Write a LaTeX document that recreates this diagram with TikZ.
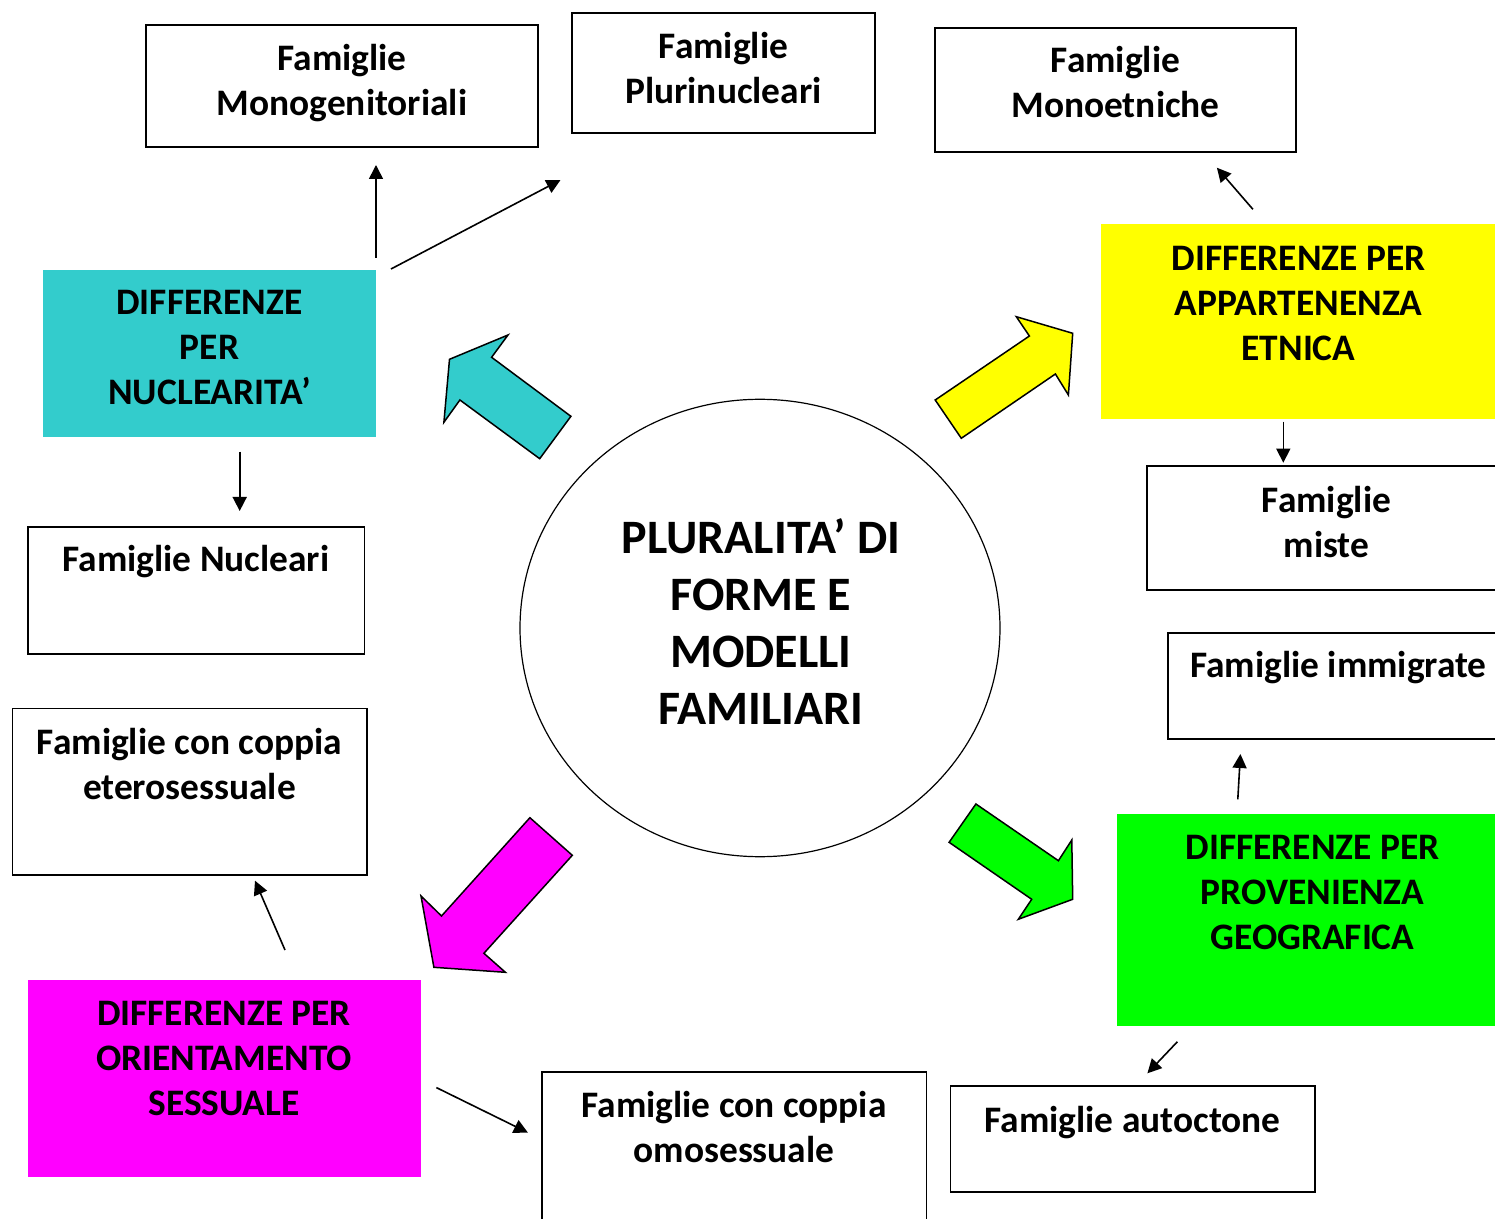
\documentclass[tikz,border=0pt]{standalone}
\usepackage{fontspec}
\setmainfont{Carlito}
\usetikzlibrary{arrows.meta,shapes.geometric}
\definecolor{nucl}{HTML}{33CCCC}
\definecolor{etn}{HTML}{FFFF00}
\definecolor{sess}{HTML}{FF00FF}
\definecolor{geo}{HTML}{00FF00}
\tikzset{
  fbox/.style={draw,line width=0.8pt,inner sep=0pt},
  cbox/.style={inner sep=0pt},
  txt/.style={anchor=north,inner sep=0pt,align=center,font=\fontsize{18.7}{22.5}\selectfont\bfseries},
  arr/.style={line width=0.8pt,-{Triangle[length=7pt,width=7pt]}},
  blk/.style={draw,line width=0.75pt,line join=miter}
}
\begin{document}
\begin{tikzpicture}[x=0.5pt,y=-0.5pt]
            \useasboundingbox(0,0)rectangle(1495,1219);
            \clip(0,0)rectangle(1495,1219);
            % centre
            \node[fbox,ellipse,line width=0.6pt,minimum width=240pt,minimum height=228.7pt](plur)at(760,628){};
            \node[txt,font=\fontsize{24}{28.6}\selectfont\bfseries](plurT)at(761,518){PLURALITA’ DI\\FORME E\\MODELLI\\FAMILIARI};
            % coloured boxes
            \node[cbox,fill=nucl,minimum width=166.5pt,minimum height=83.5pt](nuc)at(209.5,353.5){};
            \node[cbox,fill=etn,minimum width=214.5pt,minimum height=97.75pt](etn)at(1315.5,321.75){};
            \node[cbox,fill=geo,minimum width=206.5pt,minimum height=106pt](geo)at(1323.5,920){};
            \node[cbox,fill=sess,minimum width=196.5pt,minimum height=98.35pt](ses)at(224.5,1078.35){};
            \node[txt](nucT)at(209.5,290){DIFFERENZE\\PER\\NUCLEARITA’};
            \node[txt](etnT)at(1298.5,246){DIFFERENZE PER\\APPARTENENZA\\ETNICA};
            \node[txt](geoT)at(1312.5,835){DIFFERENZE PER\\PROVENIENZA\\GEOGRAFICA};
            \node[txt](sesT)at(224,1001){DIFFERENZE PER\\ORIENTAMENTO\\SESSUALE};
            % white boxes
            \node[fbox,minimum width=196pt,minimum height=61pt](mono)at(342,86){};
            \node[fbox,minimum width=151.5pt,minimum height=60pt](pluri)at(723.5,73){};
            \node[fbox,minimum width=180.5pt,minimum height=62pt](monoet)at(1115.5,90){};
            \node[fbox,minimum width=191.5pt,minimum height=62pt](miste)at(1338.5,528){};
            \node[fbox,minimum width=181pt,minimum height=53pt](immig)at(1349,686){};
            \node[fbox,minimum width=182.25pt,minimum height=53pt](autoc)at(1132.75,1139){};
            \node[fbox,minimum width=192.25pt,minimum height=84.1pt](omo)at(734.25,1155.9){};
            \node[fbox,minimum width=177.25pt,minimum height=83.2pt](etero)at(189.75,791.8){};
            \node[fbox,minimum width=168.25pt,minimum height=63.5pt](nucle)at(196.25,590.5){};
            \node[txt](monoT)at(342,43.5){Famiglie\\Monogenitoriali};
            \node[txt](pluriT)at(723.5,31.5){Famiglie\\Plurinucleari};
            \node[txt](monoetT)at(1115.5,46){Famiglie\\Monoetniche};
            \node[txt](misteT)at(1326.5,486){Famiglie\\miste};
            \node[txt](immigT)at(1338.5,651){Famiglie immigrate};
            \node[txt](autocT)at(1132.5,1105.5){Famiglie autoctone};
            \node[txt](omoT)at(734,1090.5){Famiglie con coppia\\omosessuale};
            \node[txt](eteroT)at(189.5,727.5){Famiglie con coppia\\eterosessuale};
            \node[txt](nucleT)at(196,544.5){Famiglie Nucleari};
            % block arrows
            \draw[blk,fill=nucl](508,335)--(449.5,359.3)--(443.9,422.3)--(459.9,400)--(539.7,458.7)--(570.9,416.3)--(491.6,357.3)--cycle;
            \draw[blk,fill=etn](1016.3,316.7)--(1072.7,333.3)--(1068.4,395)--(1055.4,374)--(961.3,438.3)--(935.2,400)--(1029.4,336)--cycle;
            \draw[blk,fill=sess](529.9,817.7)--(572.3,855.3)--(483.9,953.3)--(505.4,972.3)--(433.9,967.3)--(421,896)--(441.5,916)--cycle;
            \draw[blk,fill=geo](975.9,804)--(949.1,842.3)--(1031.7,899.3)--(1018.3,919.3)--(1072.7,899.3)--(1071.8,840)--(1058.4,860.7)--cycle;
            % small arrows
            \coordinate(n1)at(376,258);\coordinate(n1e)at(376,165);
            \coordinate(n2)at(391,269);\coordinate(n2e)at(560.5,180);
            \coordinate(n3)at(239.7,451.7);\coordinate(n3e)at(239.7,511);
            \coordinate(e1)at(1252.9,209.3);\coordinate(e1e)at(1216.9,167.7);
            \coordinate(e2)at(1283.3,421.7);\coordinate(e2e)at(1283.3,462.7);
            \coordinate(g1)at(1237.8,799.3);\coordinate(g1e)at(1240.4,754);
            \coordinate(g2)at(1177.4,1041.7);\coordinate(g2e)at(1147.4,1073.3);
            \coordinate(s1)at(285,950);\coordinate(s1e)at(255,880.7);
            \coordinate(s2)at(436.4,1087.6);\coordinate(s2e)at(527.9,1132.6);
            \foreach \a/\b in {n1/n1e,n2/n2e,n3/n3e,e1/e1e,e2/e2e,g1/g1e,g2/g2e,s1/s1e,s2/s2e}
              \draw[arr](\a)--(\b);
\end{tikzpicture}
\end{document}
